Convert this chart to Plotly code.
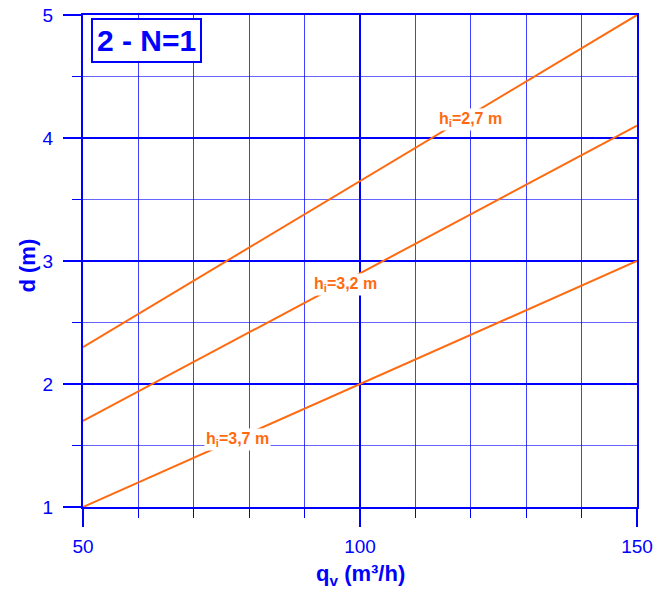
import plotly.graph_objects as go

qv = [50, 150]
d_h27 = [2.3, 5.0]
d_h32 = [1.7, 4.1]
d_h37 = [1.0, 3.0]
series = [("h<sub>i</sub>=2,7 m", d_h27, 119.9, 4.15),
          ("h<sub>i</sub>=3,2 m", d_h32, 97.3, 2.81),
          ("h<sub>i</sub>=3,7 m", d_h37, 77.9, 1.545)]
x_ticks = [50, 100, 150]
y_ticks = [1, 2, 3, 4, 5]

BLUE = "#0000FF"
ORANGE = "#FF6A10"
FONT = "Liberation Sans, Arial, sans-serif"

fig = go.Figure()
for name, ys, lx, ly in series:
    fig.add_trace(go.Scatter(x=qv, y=ys, mode="lines", line=dict(color=ORANGE, width=2),
                             showlegend=False, hoverinfo="skip"))

annotations = []
for name, ys, lx, ly in series:
    annotations.append(dict(x=lx, y=ly, xref="x", yref="y", text="<b>" + name + "</b>",
                            showarrow=False, font=dict(family=FONT, size=16, color=ORANGE),
                            bgcolor="white", borderpad=1))

annotations.append(dict(x=0.1155, y=0.948, xref="paper", yref="paper", text="<b>2 - N=1</b>",
                        showarrow=False, font=dict(family=FONT, size=30, color=BLUE),
                        bgcolor="white", bordercolor=BLUE, borderwidth=2, borderpad=4,
                        xanchor="center", yanchor="middle"))
annotations.append(dict(x=0.5, y=-0.138, xref="paper", yref="paper",
                        text="<b>q<sub>v</sub> (m³/h)</b>", showarrow=False,
                        font=dict(family=FONT, size=22, color=BLUE),
                        xanchor="center", yanchor="middle"))
annotations.append(dict(x=-0.1, y=0.49, xref="paper", yref="paper",
                        text="<b>d (m)</b>", showarrow=False, textangle=-90,
                        font=dict(family=FONT, size=22, color=BLUE),
                        xanchor="center", yanchor="middle"))

fig.update_layout(
    width=661, height=581,
    margin=dict(l=75, r=32, t=7, b=82),
    paper_bgcolor="white", plot_bgcolor="white",
    font=dict(family=FONT, color=BLUE),
    annotations=annotations,
)
fig.update_xaxes(range=[50, 150], tickvals=x_ticks, ticks="outside", ticklen=18, automargin=False,
                 tickwidth=2, tickcolor=BLUE, showgrid=True, gridcolor=BLUE, gridwidth=1.5,
                 showline=True, linecolor=BLUE, linewidth=2, mirror=True, zeroline=False,
                 tickfont=dict(family=FONT, size=19, color=BLUE), ticklabelstandoff=3,
                 ticklabeloverflow="allow",
                 minor=dict(dtick=10, tick0=50, showgrid=True, gridcolor="rgba(0,0,255,0.75)",
                            gridwidth=1, ticks="outside", ticklen=9, tickcolor=BLUE, tickwidth=1))
fig.update_yaxes(range=[1, 5], tickvals=y_ticks, ticks="outside", ticklen=18, automargin=False,
                 tickwidth=2, tickcolor=BLUE, showgrid=True, gridcolor=BLUE, gridwidth=2,
                 showline=True, linecolor=BLUE, linewidth=2, mirror=True, zeroline=False,
                 tickfont=dict(family=FONT, size=19, color=BLUE), ticklabelstandoff=6,
                 ticklabeloverflow="allow",
                 minor=dict(dtick=0.5, tick0=1, showgrid=True, gridcolor="rgba(0,0,255,0.6)",
                            gridwidth=1, ticks="outside", ticklen=9, tickcolor=BLUE, tickwidth=1))

fig.write_html("out.html")
